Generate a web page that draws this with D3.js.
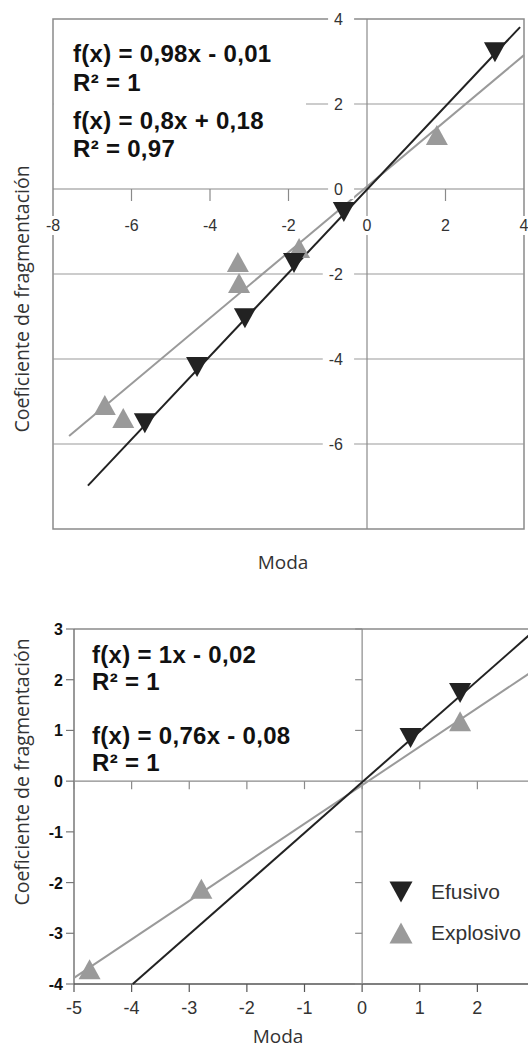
<!DOCTYPE html>
<html>
<head>
<meta charset="utf-8">
<script src="https://cdn.jsdelivr.net/npm/d3@7"></script>
<style>
  body { margin: 0; background: #fff; }
  svg { display: block; }
</style>
</head>
<body>
<script>
// ---- data ----
const seriesNames = ["Efusivo", "Explosivo"];

// top chart
const topXTicks = [-8, -6, -4, -2, 0, 2, 4];
const topYTicks = [4, 2, 0, -2, -4, -6];
const topGridY = [2, -2, -4, -6];
const topTickX = [-6, -4, -2, 2];
const topEfusivo = [[3.26, 3.22], [-0.59, -0.54], [-1.86, -1.74], [-3.11, -3.04], [-4.33, -4.19], [-5.66, -5.51]];
const topExplosivo = [[1.78, 1.27], [-1.73, -1.39], [-3.29, -1.72], [-3.26, -2.21], [-6.68, -5.08], [-6.21, -5.39]];
const topEfusivoFit = [[-7.11, -6.98], [3.9, 3.81]];
const topExplosivoFit = [[-7.59, -5.81], [4, 3.15]];
const topEquations = ["f(x) = 0,98x - 0,01", "R² = 1", "f(x) = 0,8x + 0,18", "R² = 0,97"];

// bottom chart
const botXTicks = [-5, -4, -3, -2, -1, 0, 1, 2, 3];
const botXLabels = [-5, -4, -3, -2, -1, 0, 1, 2];
const botYTicks = [3, 2, 1, 0, -1, -2, -3, -4];
const botEfusivo = [[0.84, 0.85], [1.70, 1.74]];
const botExplosivo = [[1.70, 1.18], [-2.79, -2.12], [-4.73, -3.71]];
const botEfusivoFit = [[-3.98, -4], [3.02, 3]];
const botExplosivoFit = [[-5, -3.88], [3, 2.2]];
const botEquations = ["f(x) = 1x - 0,02", "R² = 1", "f(x) = 0,76x - 0,08", "R² = 1"];

const xTitle = "Moda";
const yTitle = "Coeficiente de fragmentación";

// ---- drawing ----
const svg = d3.select("body").append("svg").attr("width", 528).attr("height", 1048);
const dark = "#222", grey = "#9a9a9a", frame = "#8a8a8a";
const labelFont = "'Liberation Sans', Arial, sans-serif";
const titleFont = "'Open Sans', 'Noto Sans', sans-serif";

// triangle path, centred on its bounding box
function tri(w, h, down) {
  if (down) return `M${-w/2},${-h/2}L${w/2},${-h/2}L0,${h/2}Z`;
  return `M0,${-h/2}L${w/2},${h/2}L${-w/2},${h/2}Z`;
}

function line(g, x1, y1, x2, y2, color, width) {
  g.append("line").attr("x1", x1).attr("y1", y1).attr("x2", x2).attr("y2", y2)
    .attr("stroke", color).attr("stroke-width", width || 1);
}

// text with a white box behind it
function boxedLabel(g, x, y, txt, anchor, padL, padR) {
  const t = g.append("text").attr("x", x).attr("y", y).text(txt)
    .attr("text-anchor", anchor).attr("font-family", labelFont)
    .attr("font-size", 16).attr("fill", "#333");
  const b = t.node().getBBox();
  g.insert("rect", function () { return t.node(); })
    .attr("x", b.x - padL).attr("y", b.y - 1)
    .attr("width", b.width + padL + padR).attr("height", b.height + 2)
    .attr("fill", "#fff");
}

function fitLine(g, pts, x, y, color) {
  g.append("path").datum(pts)
    .attr("d", d3.line().x(d => x(d[0])).y(d => y(d[1])))
    .attr("stroke", color).attr("stroke-width", 2).attr("fill", "none");
}

function markers(g, pts, x, y, color, down) {
  g.selectAll(null).data(pts).enter().append("path")
    .attr("d", tri(22, 20, down))
    .attr("transform", d => `translate(${x(d[0])},${y(d[1])})`)
    .attr("fill", color);
}

function equations(g, lines, x, ys) {
  g.selectAll(null).data(lines).enter().append("text")
    .attr("x", x).attr("y", (d, i) => ys[i])
    .attr("font-family", labelFont).attr("font-weight", "bold")
    .attr("font-size", 24).attr("letter-spacing", 0.3).attr("fill", "#111")
    .text(d => d);
}

// ---------- top chart ----------
const xTop = d3.scaleLinear().domain([-8, 4]).range([53, 524]);
const yTop = d3.scaleLinear().domain([-8, 4]).range([529, 19]);
const topG = svg.append("g");

topG.append("rect").attr("x", xTop(-8)).attr("y", yTop(4))
  .attr("width", xTop(4) - xTop(-8)).attr("height", yTop(-8) - yTop(4))
  .attr("fill", "none").attr("stroke", frame).attr("stroke-width", 1.5);

topGridY.forEach(v => line(topG, xTop(-8), yTop(v), xTop(4), yTop(v), grey, 1.2));
line(topG, xTop(0), yTop(4), xTop(0), yTop(-8), frame, 1.2);
line(topG, xTop(-8), yTop(0), xTop(4), yTop(0), frame, 1.2);
topTickX.forEach(v => line(topG, xTop(v), yTop(0), xTop(v), yTop(0) + 12, frame, 1.2));

// white equation box hides the grid behind it
topG.append("rect").attr("x", xTop(-8) + 1).attr("y", yTop(4) + 1)
  .attr("width", 252).attr("height", 165).attr("fill", "#fff");

fitLine(topG, topExplosivoFit, xTop, yTop, grey);
fitLine(topG, topEfusivoFit, xTop, yTop, dark);
markers(topG, topExplosivo, xTop, yTop, grey, false);
markers(topG, topEfusivo, xTop, yTop, dark, true);

topXTicks.forEach(v => boxedLabel(topG, xTop(v), yTop(0) + 42, String(v), "middle", 3, 3));
topYTicks.forEach(v => boxedLabel(topG, xTop(0) - 24, yTop(v) + 6, String(v), "end", 6, 11));

equations(topG, topEquations, 73, [62, 91, 129, 157]);

topG.append("text").attr("x", 283).attr("y", 569).attr("text-anchor", "middle")
  .attr("font-family", titleFont).attr("font-size", 19).attr("fill", "#333").text(xTitle);
topG.append("text").attr("transform", "translate(29,299) rotate(-90)").attr("text-anchor", "middle")
  .attr("font-family", titleFont).attr("font-size", 19.5).attr("fill", "#333").text(yTitle);

// ---------- bottom chart ----------
const xBot = d3.scaleLinear().domain([-5, 3]).range([74, 535]);
const yBot = d3.scaleLinear().domain([-4, 3]).range([984, 629]);
const botG = svg.append("g");

line(botG, xBot(-5), yBot(3), xBot(3), yBot(3), frame, 1.5);
line(botG, xBot(-5), yBot(3), xBot(-5), yBot(-4), "#777", 1.5);
line(botG, xBot(-5), yBot(-4), xBot(3), yBot(-4), "#555", 1.5);
line(botG, xBot(-5), yBot(0), xBot(3), yBot(0), frame, 1.2);
line(botG, xBot(0), yBot(3), xBot(0), yBot(-4), frame, 1.2);

botXTicks.forEach(v => {
  line(botG, xBot(v), yBot(0), xBot(v), yBot(0) + 8, frame, 1.2);
  line(botG, xBot(v), yBot(-4), xBot(v), yBot(-4) + 8, "#555", 1.2);
});
botYTicks.forEach(v => {
  line(botG, xBot(-5) - 8, yBot(v), xBot(-5), yBot(v), "#777", 1.2);
  line(botG, xBot(0) - 7, yBot(v), xBot(0), yBot(v), frame, 1.2);
});

fitLine(botG, botExplosivoFit, xBot, yBot, grey);
fitLine(botG, botEfusivoFit, xBot, yBot, dark);
markers(botG, botExplosivo, xBot, yBot, grey, false);
markers(botG, botEfusivo, xBot, yBot, dark, true);

botG.selectAll(null).data(botXLabels).enter().append("text")
  .attr("x", d => xBot(d)).attr("y", yBot(-4) + 30).attr("text-anchor", "middle")
  .attr("font-family", labelFont).attr("font-size", 18).attr("fill", "#333").text(d => d);
botG.selectAll(null).data(botYTicks).enter().append("text")
  .attr("x", xBot(-5) - 11).attr("y", d => yBot(d) + 6).attr("text-anchor", "end")
  .attr("font-family", labelFont).attr("font-weight", "bold").attr("font-size", 16)
  .attr("fill", "#111").text(d => d);

equations(botG, botEquations, 92, [663, 690, 744, 771]);

botG.append("text").attr("x", 278).attr("y", 1043).attr("text-anchor", "middle")
  .attr("font-family", titleFont).attr("font-size", 19).attr("fill", "#333").text(xTitle);
botG.append("text").attr("transform", "translate(29,772) rotate(-90)").attr("text-anchor", "middle")
  .attr("font-family", titleFont).attr("font-size", 19.5).attr("fill", "#333").text(yTitle);

// legend
const legend = botG.append("g");
seriesNames.forEach((name, i) => {
  const y = 892 + i * 41;
  legend.append("path").attr("d", tri(23, 21, i === 0))
    .attr("transform", `translate(401,${y})`).attr("fill", i === 0 ? dark : grey);
  legend.append("text").attr("x", 431).attr("y", y + 7)
    .attr("font-family", labelFont).attr("font-size", 21).attr("fill", "#333").text(name);
});
</script>
</body>
</html>
